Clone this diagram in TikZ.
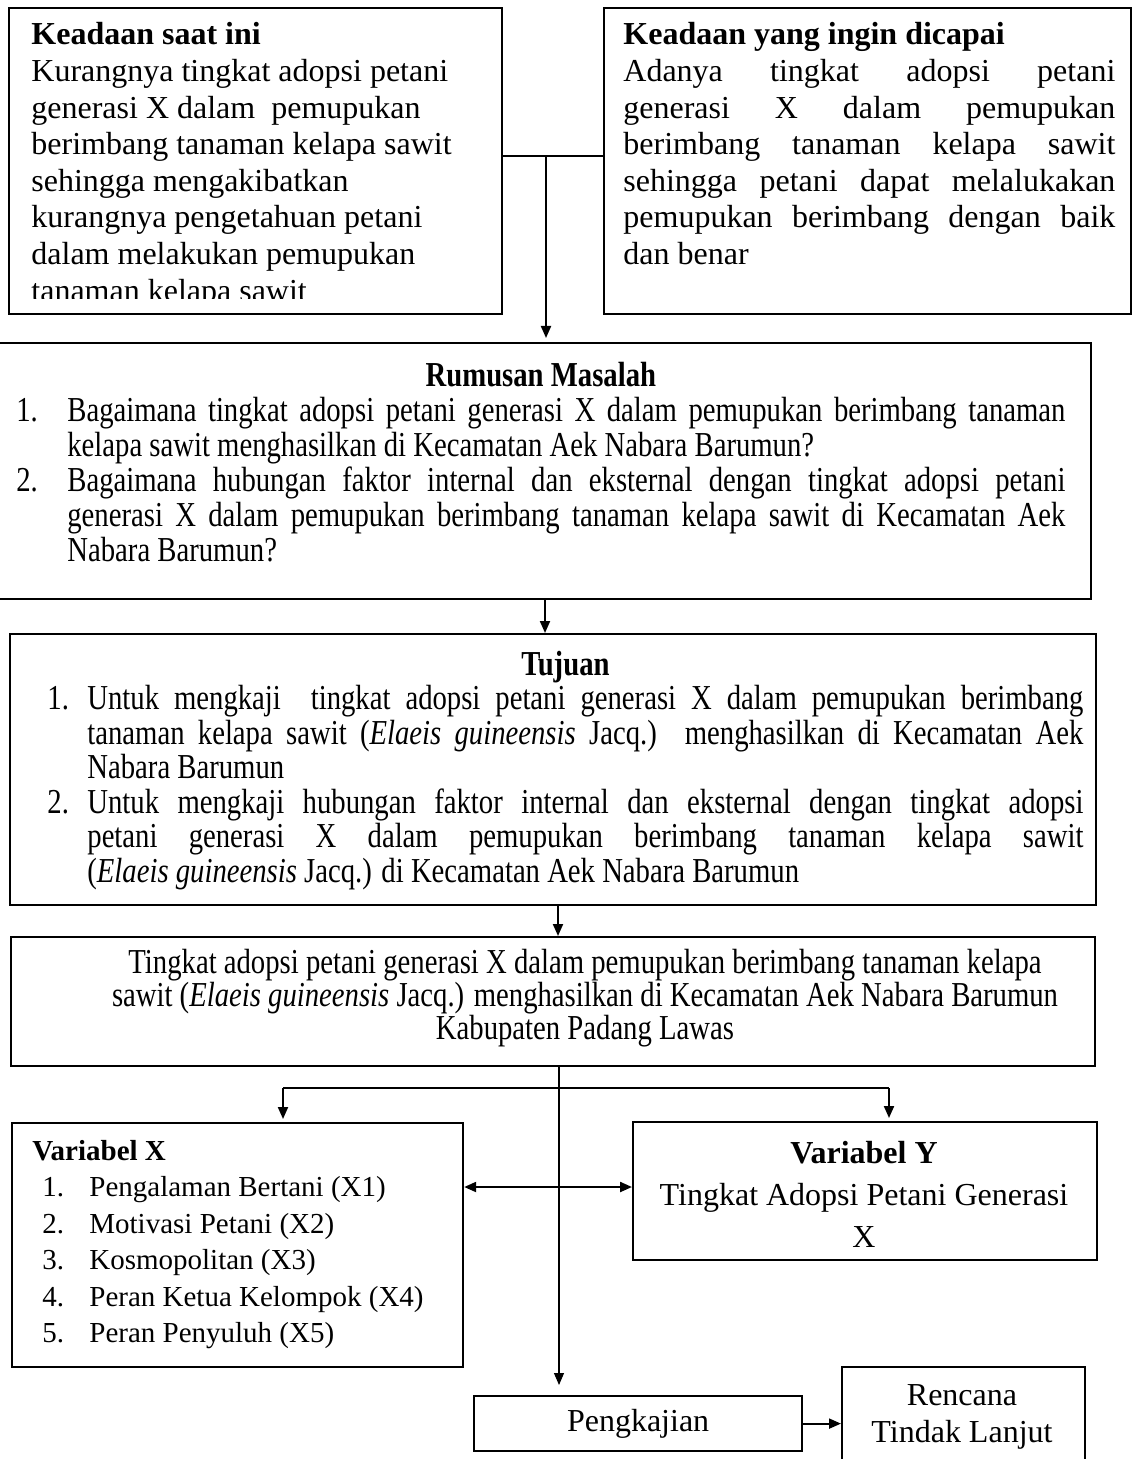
\documentclass[tikz,border=0pt]{standalone}
\usepackage{fontspec}
\setmainfont{Liberation Serif}
\newfontfamily\narrowfont[FakeStretch=0.82]{Liberation Serif}
\usepackage{tikz}
\usetikzlibrary{arrows.meta}

\newcommand{\numitem}[3]{\par\noindent\hangindent=#1\hangafter=1\makebox[#1][l]{#2}#3\par}

\tikzset{
  frame/.style={draw, line width=1.1pt, anchor=north west, inner sep=0pt},
  txt/.style={inner sep=0pt},
  link/.style={line width=1pt},
  arr/.style={line width=1pt, -{Triangle[length=6pt,width=5pt]}},
  arrboth/.style={line width=1.1pt, {Triangle[length=6pt,width=5pt]}-{Triangle[length=6pt,width=5pt]}}
}

\begin{document}
\begin{tikzpicture}[x=0.5pt, y=-0.5pt]
        \useasboundingbox (0,0) rectangle (1136,1459);
        \clip (0,0) rectangle (1136,1459);

        % kotak atas
        \node[frame, minimum width=246.5pt, minimum height=153pt] (kini) at (8,7) {};
        \node[frame, minimum width=263.5pt, minimum height=153pt] (capai) at (603,7) {};
        \begin{scope}
            \clip (8,7) rectangle (501,299);
            \node[txt, anchor=base west] (kinitxt) at (31,45) {\parbox[t]{223pt}{\fontsize{16}{18.3}\selectfont\raggedright
                \textbf{Keadaan saat ini}\\
                Kurangnya tingkat adopsi petani\\
                generasi X dalam\ \ pemupukan\\
                berimbang tanaman kelapa sawit\\
                sehingga mengakibatkan\\
                kurangnya pengetahuan petani\\
                dalam melakukan pemupukan\\
                tanaman kelapa sawit}};
        \end{scope}
        \node[txt, anchor=base west] (capaitxt) at (623,45) {\parbox[t]{246pt}{\fontsize{16}{18.3}\selectfont
            \textbf{Keadaan yang ingin dicapai}\\
            Adanya tingkat adopsi petani\linebreak
            generasi X dalam pemupukan\linebreak
            berimbang tanaman kelapa sawit\linebreak
            sehingga petani dapat melalukakan\linebreak
            pemupukan berimbang dengan baik\linebreak
            dan benar}};

        % rumusan masalah
        \node[frame, minimum width=546pt, minimum height=128pt] (rumusan) at (-2,342) {};
        \node[txt, anchor=base west] (rumusantxt) at (16,387) {\parbox[t]{524.5pt}{\narrowfont\fontsize{17.5}{17.5}\selectfont
            \centerline{\bfseries Rumusan Masalah}
            \numitem{25.5pt}{1.}{Bagaimana tingkat adopsi petani generasi X dalam pemupukan berimbang tanaman\linebreak
                kelapa sawit menghasilkan di Kecamatan Aek Nabara Barumun?}
            \numitem{25.5pt}{2.}{Bagaimana hubungan faktor internal dan eksternal dengan tingkat adopsi petani\linebreak
                generasi X dalam pemupukan berimbang tanaman kelapa sawit di Kecamatan Aek\linebreak
                Nabara Barumun?}}};

        % tujuan
        \node[frame, minimum width=543pt, minimum height=135.5pt] (tujuan) at (9,633) {};
        \node[txt, anchor=base west] (tujuantxt) at (47,675) {\parbox[t]{518pt}{\narrowfont\fontsize{17.5}{17.25}\selectfont
            \centerline{\bfseries Tujuan}
            \numitem{20pt}{1.}{Untuk mengkaji\ \ tingkat adopsi petani generasi X dalam pemupukan berimbang\linebreak
                tanaman kelapa sawit (\textit{Elaeis guineensis} Jacq.) menghasilkan di Kecamatan Aek\linebreak
                Nabara Barumun}
            \numitem{20pt}{2.}{Untuk mengkaji hubungan faktor internal dan eksternal dengan tingkat adopsi\linebreak
                petani generasi X dalam pemupukan berimbang tanaman kelapa sawit\linebreak
                (\textit{Elaeis guineensis} Jacq.) di Kecamatan Aek Nabara Barumun}}};

        % tingkat adopsi
        \node[frame, minimum width=542pt, minimum height=64.5pt] (adopsi) at (10,936) {};
        \node[txt, anchor=base] (adopsitxt) at (585,973) {\parbox[t]{500pt}{\centering\narrowfont\fontsize{17.5}{16.5}\selectfont
            Tingkat adopsi petani generasi X dalam pemupukan berimbang tanaman kelapa\\
            sawit (\textit{Elaeis guineensis} Jacq.) menghasilkan di Kecamatan Aek Nabara Barumun\\
            Kabupaten Padang Lawas}};

        % variabel
        \node[frame, minimum width=225.5pt, minimum height=122pt] (varx) at (11,1122) {};
        \node[txt, anchor=base west] (varxtxt) at (32,1160) {\parbox[t]{210pt}{\fontsize{14.5}{18.25}\selectfont
            \textbf{Variabel X}\\
            \hspace*{5pt}\makebox[23.5pt][l]{1.}Pengalaman Bertani (X1)\\
            \hspace*{5pt}\makebox[23.5pt][l]{2.}Motivasi Petani (X2)\\
            \hspace*{5pt}\makebox[23.5pt][l]{3.}Kosmopolitan (X3)\\
            \hspace*{5pt}\makebox[23.5pt][l]{4.}Peran Ketua Kelompok (X4)\\
            \hspace*{5pt}\makebox[23.5pt][l]{5.}Peran Penyuluh (X5)}};
        \node[frame, minimum width=232pt, minimum height=69pt] (vary) at (632,1121) {};
        \node[txt, anchor=base] (varytxt) at (864,1163) {\parbox[t]{225pt}{\centering\fontsize{16}{21}\selectfont
            \textbf{Variabel Y}\\
            Tingkat Adopsi Petani Generasi\\
            X}};

        % pengkajian dan rencana
        \node[frame, minimum width=164pt, minimum height=27.5pt] (kaji) at (473,1395) {};
        \node[txt] (kajitxt) at (kaji.center) {\fontsize{16}{18}\selectfont Pengkajian};
        \node[frame, minimum width=121.5pt, minimum height=60pt] (rtl) at (841,1366) {};
        \node[txt, anchor=base] (rtltxt) at (962,1405) {\parbox[t]{120pt}{\centering\fontsize{16}{18.5}\selectfont
            Rencana\\
            Tindak Lanjut}};

        % garis penghubung
        \coordinate (join) at (546,156);
        \coordinate (a1) at (545,0);
        \coordinate (a2) at (558,0);
        \coordinate (trunk) at (559,0);
        \coordinate (bl) at (283,1088);
        \coordinate (br) at (889,1088);
        \coordinate (mid) at (0,1187);

        \draw[link] (kini.east |- join) -- (capai.west |- join);
        \draw[arr, shorten >=2pt] (join) -- (join |- rumusan.north);
        \draw[arr] (a1 |- rumusan.south) -- (a1 |- tujuan.north);
        \draw[arr] (a2 |- tujuan.south) -- (a2 |- adopsi.north);
        \draw[line width=0.6pt, -{Triangle[length=6pt,width=5pt]}, shorten >=5pt] (trunk |- adopsi.south) -- (trunk |- kaji.north);
        \draw[link] (bl) -- (br);
        \draw[arr, shorten >=1.5pt] (bl) -- (bl |- varx.north);
        \draw[arr, shorten >=1.5pt] (br) -- (br |- vary.north);
        \draw[arrboth] (varx.east |- mid) -- (vary.west |- mid);
        \draw[arr] (kaji.east) -- (rtl.west |- kaji.east);
\end{tikzpicture}
\end{document}
